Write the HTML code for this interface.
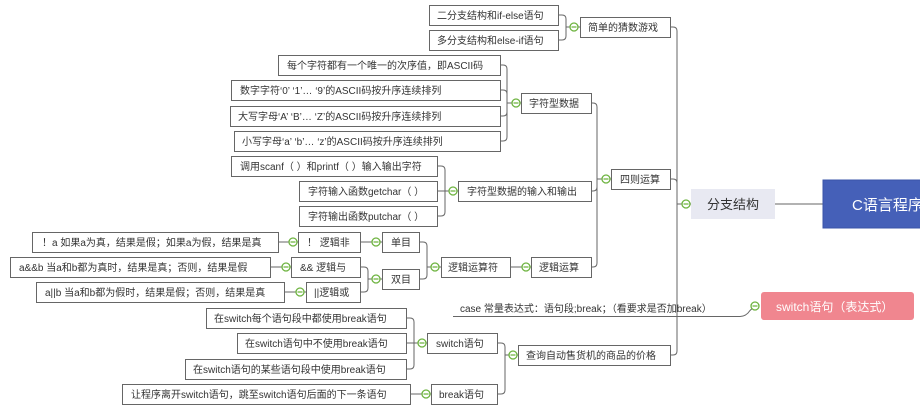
<!DOCTYPE html>
<html><head><meta charset="utf-8"><style>
html,body{margin:0;padding:0;background:#fff;}
svg{display:block;}
text{font-family:"Liberation Sans","Noto Sans CJK SC",sans-serif;font-size:10px;fill:#333;}
</style></head><body>
<svg width="920" height="416" viewBox="0 0 920 416" xmlns="http://www.w3.org/2000/svg">
<g fill="none" stroke="#666" stroke-width="1">
<!-- brackets: child curves + vertical + parent link -->
<path d="M558 15 h4 q4 0 4 4 V36 q0 4 -4 4 h-4 M566 27 H580"/>
<path d="M500 65 h3 q4 0 4 4 V137 q0 4 -4 4 h-3 M500 90 h3 q4 0 4 4 M500 116 h3 q4 0 4 -4 M507 103 H521"/>
<path d="M437 166 h4 q4 0 4 4 V212 q0 4 -4 4 h-4 M437 191 H458"/>
<path d="M591 103 h2 q4 0 4 4 V263 q0 4 -4 4 h-2 M591 191 h2 q4 0 4 -4 M597 179 H611"/>
<path d="M670 27 h3 q4 0 4 4 V351 q0 4 -4 4 h-3 M670 179 h3 q4 0 4 4 M677 204 H691"/>
<path d="M510 267 H531"/>
<path d="M419 242 h4 q4 0 4 4 V275 q0 4 -4 4 h-4 M427 267 H441"/>
<path d="M360 242 H382"/>
<path d="M360 267 h4 q4 0 4 4 V288 q0 4 -4 4 h-4 M368 279 H382"/>
<path d="M278 242 H298 M270 267 H291 M284 292 H306"/>
<path d="M497 343 h4 q4 0 4 4 V390 q0 4 -4 4 h-4 M505 355 H518"/>
<path d="M406 318 h4 q4 0 4 4 V365 q0 4 -4 4 h-4 M406 343 H427"/>
<path d="M410 394 H431"/>
<path d="M775 204 H823"/>
<path d="M453 316.5 H740 q6 0 10 -6 L755 306"/>
</g>
<!-- boxes -->
<g fill="#fff" stroke="#666" stroke-width="1">
<rect x="429.5" y="5.5" width="129" height="20"/>
<rect x="429.5" y="30.5" width="129" height="20"/>
<rect x="580.5" y="17.5" width="90" height="20"/>
<rect x="278.5" y="55.5" width="222" height="20"/>
<rect x="231.5" y="80.5" width="269" height="20"/>
<rect x="230.5" y="106.5" width="270" height="20"/>
<rect x="234.5" y="131.5" width="266" height="20"/>
<rect x="521.5" y="93.5" width="70" height="20"/>
<rect x="231.5" y="156.5" width="206" height="20"/>
<rect x="299.5" y="181.5" width="138" height="20"/>
<rect x="299.5" y="206.5" width="138" height="20"/>
<rect x="458.5" y="181.5" width="133" height="20"/>
<rect x="611.5" y="169.5" width="59" height="20"/>
<rect x="531.5" y="257.5" width="60" height="20"/>
<rect x="441.5" y="257.5" width="69" height="20"/>
<rect x="382.5" y="232.5" width="37" height="20"/>
<rect x="382.5" y="269.5" width="37" height="20"/>
<rect x="298.5" y="232.5" width="62" height="20"/>
<rect x="291.5" y="257.5" width="69" height="20"/>
<rect x="306.5" y="282.5" width="54" height="20"/>
<rect x="32.5" y="232.5" width="246" height="20"/>
<rect x="10.5" y="257.5" width="260" height="20"/>
<rect x="36.5" y="282.5" width="248" height="20"/>
<rect x="206.5" y="308.5" width="200" height="20"/>
<rect x="237.5" y="333.5" width="169" height="20"/>
<rect x="185.5" y="359.5" width="221" height="20"/>
<rect x="427.5" y="333.5" width="70" height="20"/>
<rect x="518.5" y="345.5" width="152" height="20"/>
<rect x="122.5" y="384.5" width="288" height="20"/>
<rect x="431.5" y="384.5" width="66" height="20"/>
</g>
<rect x="691" y="189" width="84" height="30" fill="#e8e9f2"/>
<rect x="823" y="180" width="100" height="48" fill="#4560b8" stroke="#3a55a8"/>
<rect x="761" y="292" width="153" height="28" rx="3" fill="#f0868f"/>
<!-- circles -->
<g fill="#fff" stroke="#6db33f" stroke-width="1.3">
<circle cx="574" cy="27" r="4"/><circle cx="516" cy="103" r="4"/><circle cx="453" cy="191" r="4"/>
<circle cx="606" cy="179" r="4"/><circle cx="686" cy="204" r="4"/><circle cx="526" cy="267" r="4"/>
<circle cx="435" cy="267" r="4"/><circle cx="376" cy="242" r="4"/><circle cx="376" cy="279" r="4"/>
<circle cx="293" cy="242" r="4"/><circle cx="286" cy="267" r="4"/><circle cx="300" cy="292" r="4"/>
<circle cx="422" cy="343" r="4"/><circle cx="426" cy="394" r="4"/><circle cx="513" cy="355" r="4"/>
<circle cx="755" cy="306" r="4"/>
</g>
<g stroke="#6db33f" stroke-width="1.2">
<path d="M571.5 27h5M513.5 103h5M450.5 191h5M603.5 179h5M683.5 204h5M523.5 267h5M432.5 267h5M373.5 242h5M373.5 279h5M290.5 242h5M283.5 267h5M297.5 292h5M419.5 343h5M423.5 394h5M510.5 355h5M752.5 306h5"/>
</g>
<!-- texts -->
<g>
<text x="437" y="19">二分支结构和if-else语句</text>
<text x="437" y="44">多分支结构和else-if语句</text>
<text x="588" y="31">简单的猜数游戏</text>
<text x="287" y="69">每个字符都有一个唯一的次序值，即ASCII码</text>
<text x="240" y="94">数字字符‘0’ ‘1’… ‘9’的ASCII码按升序连续排列</text>
<text x="238" y="120">大写字母‘A’ ‘B’… ‘Z’的ASCII码按升序连续排列</text>
<text x="242" y="145">小写字母‘a’ ‘b’… ‘z’的ASCII码按升序连续排列</text>
<text x="529" y="107">字符型数据</text>
<text x="240" y="170">调用scanf（ ）和printf（ ）输入输出字符</text>
<text x="308" y="195">字符输入函数getchar（ ）</text>
<text x="308" y="220">字符输出函数putchar（ ）</text>
<text x="467" y="195">字符型数据的输入和输出</text>
<text x="620" y="183">四则运算</text>
<text x="539" y="271">逻辑运算</text>
<text x="448" y="271">逻辑运算符</text>
<text x="391" y="246">单目</text>
<text x="391" y="283">双目</text>
<text x="307" y="246">！ 逻辑非</text>
<text x="300" y="271">&amp;&amp; 逻辑与</text>
<text x="314" y="296">||逻辑或</text>
<text x="42" y="246">！a 如果a为真，结果是假；如果a为假，结果是真</text>
<text x="19" y="271">a&amp;&amp;b 当a和b都为真时，结果是真；否则，结果是假</text>
<text x="45" y="296">a||b 当a和b都为假时，结果是假；否则，结果是真</text>
<text x="460" y="312">case  常量表达式：语句段;break；（看要求是否加break）</text>
<text x="214" y="322">在switch每个语句段中都使用break语句</text>
<text x="245" y="347">在switch语句中不使用break语句</text>
<text x="193" y="373">在switch语句的某些语句段中使用break语句</text>
<text x="436" y="347">switch语句</text>
<text x="526" y="359">查询自动售货机的商品的价格</text>
<text x="131" y="398">让程序离开switch语句，跳至switch语句后面的下一条语句</text>
<text x="439" y="398">break语句</text>
<text x="707" y="209" style="font-size:13px;fill:#333">分支结构</text>
<text x="852" y="210" style="font-size:15px;fill:#fff">C语言程序</text>
<text x="776" y="311" style="font-size:12px;fill:#fff">switch语句（表达式）</text>
</g>
</svg>
</body></html>
